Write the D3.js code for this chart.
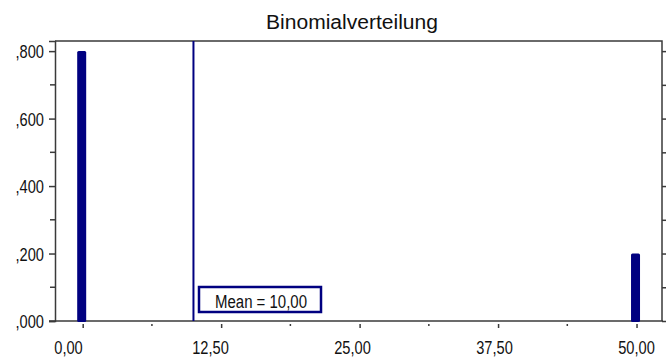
<!DOCTYPE html>
<html>
<head>
<meta charset="utf-8">
<script src="https://cdn.jsdelivr.net/npm/d3@7"></script>
<style>
  html, body { margin: 0; padding: 0; background: #fff; }
  svg { display: block; }
  text { font-family: "Liberation Sans", Arial, sans-serif; fill: #111; }
</style>
</head>
<body>
<svg id="chart" width="667" height="359"></svg>
<script>
// Binomial distribution: outcomes and their probabilities
const outcomes = [0, 50];
const probabilities = [0.8, 0.2];
const meanValue = 10;
const xTickValues = [0, 12.5, 25, 37.5, 50];
const xMinorTickValues = [6.25, 18.75, 31.25, 43.75];
const yTickValues = [0, 0.2, 0.4, 0.6, 0.8];
const yMinorTickValues = [0.1, 0.3, 0.5, 0.7];
const chartTitle = "Binomialverteilung";

const svg = d3.select("#chart");
const frame = { left: 55, right: 662, top: 41, bottom: 321 };
const navy = "#000080";
const axisColor = "#3a3a3a";
const squeeze = 0.77; // narrow glyph rendering
const tickFont = "19px";

const x = d3.scaleLinear().domain([-2.5, 52.3]).range([frame.left, frame.right]);
const y = d3.scaleLinear().domain([0, 0.83]).range([frame.bottom, frame.top]);
// tick labels are spread slightly differently from the ticks themselves
const xLabel = d3.scaleLinear().domain([0, 50]).range([68, 636]);

const comma = s => s.replace(".", ",");
const fmtX = d => comma(d3.format(".2f")(d));
const fmtY = d => comma(d3.format(".3f")(d)).replace(/^0/, "");

function narrow(sel) {
  sel.each(function () {
    const w = this.getComputedTextLength();
    d3.select(this).attr("textLength", w * squeeze).attr("lengthAdjust", "spacingAndGlyphs");
  });
}

// Title
svg.append("text")
  .attr("x", 352).attr("y", 29)
  .attr("text-anchor", "middle")
  .style("font-size", "19.5px")
  .text(chartTitle)
  .attr("textLength", 172).attr("lengthAdjust", "spacingAndGlyphs");

// Frame: top and right edges
svg.append("path")
  .attr("d", `M${frame.left},${frame.top}H${frame.right}V${frame.bottom}`)
  .attr("fill", "none").attr("stroke", axisColor).attr("stroke-width", 1.5);

// Left axis
const yAxis = svg.append("g").attr("transform", `translate(${frame.left},0)`)
  .call(d3.axisLeft(y).tickValues(yTickValues).tickFormat(fmtY).tickSize(6).tickPadding(5));
yAxis.select(".domain").attr("stroke", axisColor).attr("stroke-width", 1.5);
yAxis.selectAll(".tick line").attr("stroke", axisColor).attr("stroke-width", 1.5);
yAxis.selectAll(".tick text").style("font-size", tickFont).attr("font-family", null)
  .attr("fill", "#111").attr("dy", "0.36em").call(narrow);
yAxis.selectAll(".minor").data(yMinorTickValues).enter().append("line")
  .attr("class", "minor")
  .attr("x1", -5).attr("x2", 0).attr("y1", d => y(d)).attr("y2", d => y(d))
  .attr("stroke", axisColor).attr("stroke-width", 1.5);

// Right axis ticks (outward)
const yRight = svg.append("g").attr("transform", `translate(${frame.right},0)`)
  .call(d3.axisRight(y).tickValues(yTickValues.concat(yMinorTickValues)).tickFormat("").tickSize(4));
yRight.select(".domain").remove();
yRight.selectAll(".tick line").attr("stroke", axisColor).attr("stroke-width", 1.5);

// Bottom axis
const xAxis = svg.append("g").attr("transform", `translate(0,${frame.bottom})`)
  .call(d3.axisBottom(x).tickValues(xTickValues).tickFormat(fmtX).tickSize(7).tickPadding(13));
xAxis.select(".domain").attr("stroke", axisColor).attr("stroke-width", 1.5)
  .attr("d", `M${frame.left - 6},0H${frame.right + 1}`);
xAxis.selectAll(".tick line").attr("stroke", axisColor).attr("stroke-width", 1.5).attr("y1", 3);
xAxis.selectAll(".tick text").style("font-size", tickFont).attr("font-family", null)
  .attr("fill", "#111").attr("x", d => xLabel(d) - x(d)).call(narrow);
xAxis.selectAll(".minor").data(xMinorTickValues).enter().append("line")
  .attr("class", "minor")
  .attr("x1", d => x(d)).attr("x2", d => x(d)).attr("y1", 3).attr("y2", 5)
  .attr("stroke", axisColor).attr("stroke-width", 1.5);

// Probability bars
const barWidth = 9;
svg.append("g").selectAll("rect")
  .data(outcomes.map((v, i) => ({ v, p: probabilities[i] })))
  .enter().append("rect")
  .attr("x", d => x(d.v) - barWidth / 2 - 1)
  .attr("y", d => y(d.p))
  .attr("width", barWidth)
  .attr("height", d => frame.bottom - y(d.p) + 1)
  .attr("rx", 1.5)
  .attr("fill", navy);

// Mean reference line
svg.append("line")
  .attr("x1", x(meanValue)).attr("x2", x(meanValue))
  .attr("y1", frame.top).attr("y2", frame.bottom)
  .attr("stroke", navy).attr("stroke-width", 2);

// Mean label
const labelBox = { x: 199, y: 287, w: 122, h: 25 };
svg.append("rect")
  .attr("x", labelBox.x).attr("y", labelBox.y)
  .attr("width", labelBox.w).attr("height", labelBox.h)
  .attr("fill", "#fff").attr("stroke", navy).attr("stroke-width", 2.5);
svg.append("text")
  .attr("x", 261).attr("y", 308)
  .attr("text-anchor", "middle")
  .style("font-size", "18px")
  .text(`Mean = ${fmtX(meanValue)}`)
  .attr("textLength", 92).attr("lengthAdjust", "spacingAndGlyphs");
</script>
</body>
</html>
